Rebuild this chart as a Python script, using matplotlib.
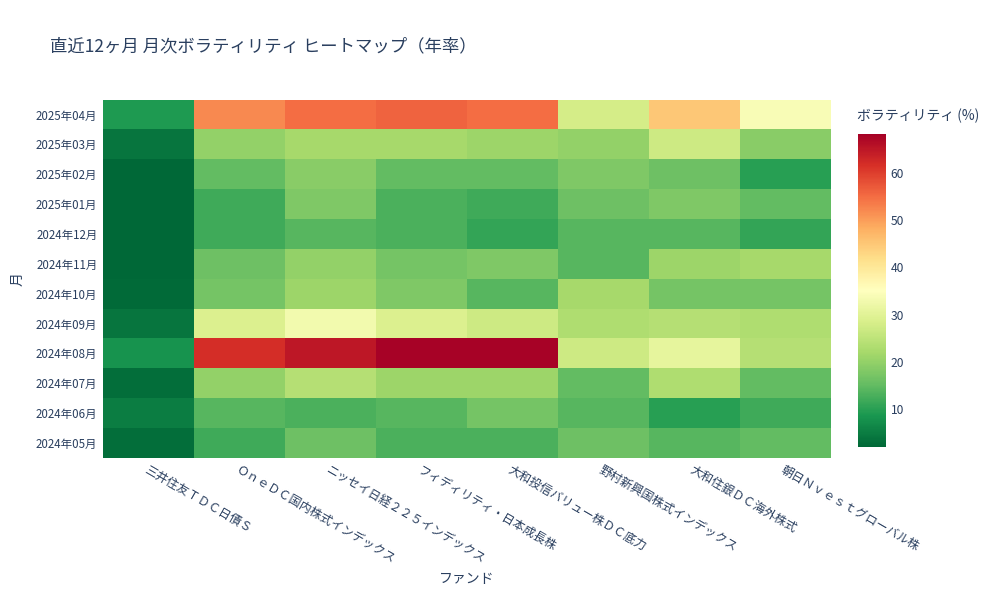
import matplotlib
matplotlib.use("Agg")
import matplotlib.pyplot as plt
import numpy as np

plt.rcParams["font.family"] = ["Noto Sans CJK JP", "DejaVu Sans"]

funds = ["三井住友ＴＤＣ日債Ｓ", "ＯｎｅＤＣ国内株式インデックス", "ニッセイ日経２２５インデックス",
         "フィディリティ・日本成長株", "大和投信バリュー株ＤＣ底力", "野村新興国株式インデックス",
         "大和住銀ＤＣ海外株式", "朝日Ｎｖｅｓｔグローバル株"]
months = ["2024年05月", "2024年06月", "2024年07月", "2024年08月", "2024年09月", "2024年10月",
          "2024年11月", "2024年12月", "2025年01月", "2025年02月", "2025年03月", "2025年04月"]

# rows: months (oldest first), columns: funds
vol = np.array([
    [3, 12, 16, 13, 13, 16, 14, 15],
    [5, 14, 13, 14, 17, 14, 10, 12],
    [3, 20, 24, 21, 21, 15, 23, 15],
    [8, 62, 65, 68, 68, 27, 31, 24],
    [4, 29, 33, 29, 27, 23, 24, 23],
    [2.5, 17, 21, 18, 14, 22, 17, 17],
    [2, 16, 20, 17, 18, 14, 21, 22],
    [2, 12, 14, 13, 11, 14, 14, 11],
    [2, 12, 18, 13, 12, 16, 18, 15],
    [2, 15, 19, 15, 15, 18, 16, 10],
    [4, 20, 22, 22, 21, 20, 27, 19],
    [9, 52, 55, 56, 55, 28, 45, 34],
])

fig = plt.figure(figsize=(10, 6), dpi=100)
ax = fig.add_axes([0.103, 0.237, 0.728, 0.597])
cax = fig.add_axes([0.858, 0.255, 0.028, 0.522])

mesh = ax.pcolormesh(vol, cmap="RdYlGn_r", vmin=2, vmax=68.3)
ax.set_xticks(np.arange(len(funds)) + 0.5)
ax.set_xticklabels(funds, rotation=-30, ha="left", va="top", rotation_mode="anchor",
                   fontsize=8.7, color="#2a3f5f")
ax.set_yticks(np.arange(len(months)) + 0.5)
ax.set_yticklabels(months, fontsize=8.3, color="#2a3f5f")
ax.tick_params(length=0, pad=4)
for s in ax.spines.values():
    s.set_visible(False)
fig.text(0.467, 0.028, "ファンド", fontsize=10, color="#2a3f5f", ha="center")
ax.set_ylabel("月", fontsize=10, color="#2a3f5f", labelpad=8)

cb = fig.colorbar(mesh, cax=cax)
cb.set_ticks([10, 20, 30, 40, 50, 60])
cb.outline.set_visible(False)
cb.ax.tick_params(length=0, labelsize=8.7, labelcolor="#2a3f5f")
fig.text(0.857, 0.8, "ボラティリティ (%)", fontsize=10, color="#2a3f5f")

fig.text(0.05, 0.915, "直近12ヶ月 月次ボラティリティ ヒートマップ（年率）", fontsize=12.5, color="#2a3f5f")

fig.savefig("out.png", dpi=100)
